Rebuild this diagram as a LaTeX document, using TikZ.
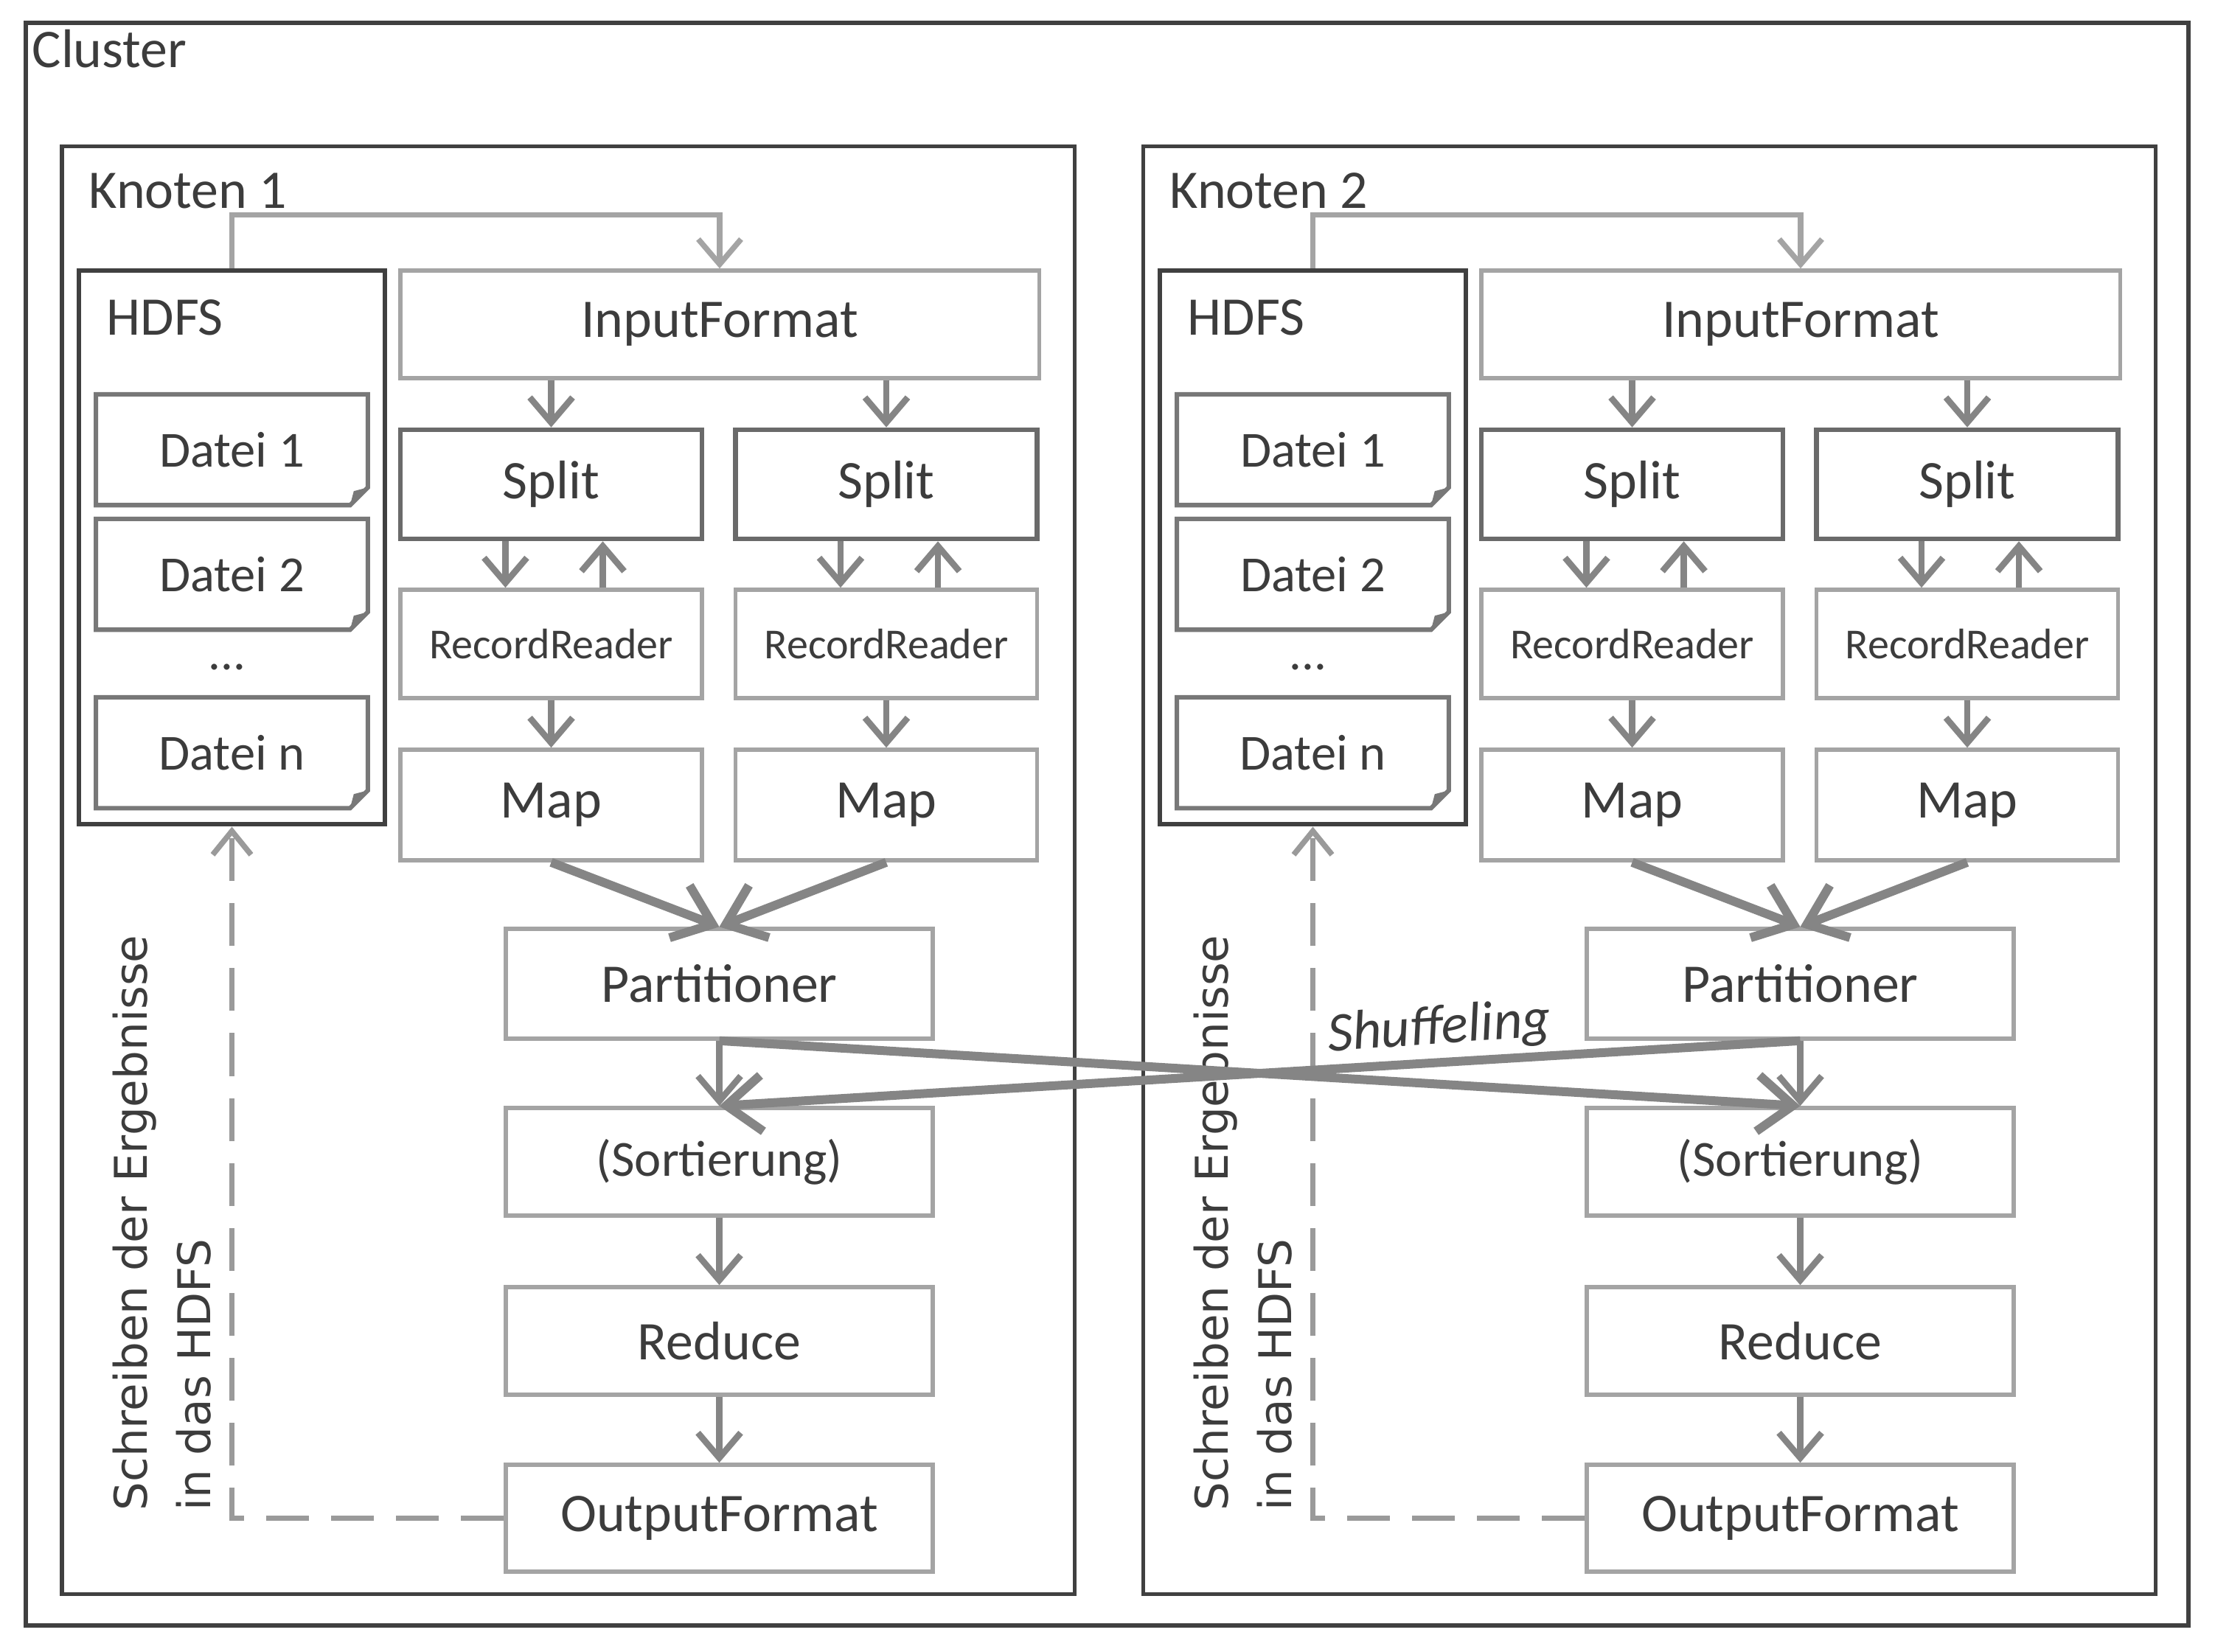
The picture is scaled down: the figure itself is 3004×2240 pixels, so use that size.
\documentclass[tikz,border=0pt]{standalone}
\usepackage{fontspec}
\setmainfont{Carlito}
\newfontfamily\rotfont{DejaVu Sans}
\usetikzlibrary{arrows.meta}

\definecolor{darkline}{HTML}{404040}
\definecolor{splitline}{HTML}{6A6A6A}
\definecolor{boxline}{HTML}{A4A4A4}
\definecolor{fileline}{HTML}{787878}
\definecolor{arrowgray}{HTML}{858585}
\definecolor{dashgray}{HTML}{9A9A9A}
\definecolor{txt}{HTML}{3C3C3C}

\tikzset{
  frame/.style={draw=darkline, line width=0.05cm},
  lbl/.style={text=txt, font=\fontsize{21}{25}\selectfont, inner sep=0pt},
  procbox/.style={draw=boxline, line width=0.055cm, text=txt, font=\fontsize{21}{25}\selectfont, inner sep=0pt},
  splitbox/.style={procbox, draw=splitline, line width=0.065cm, minimum width=4.09cm, minimum height=1.48cm},
  hdfsbox/.style={draw=darkline, line width=0.065cm, minimum width=4.15cm, minimum height=7.51cm, inner sep=0pt},
  filebox/.style={text=txt, font=\fontsize{19.5}{23}\selectfont, minimum width=3.67cm, minimum height=1.49cm, inner sep=0pt},
  fileline/.style={draw=fileline, line width=0.06cm},
  fold/.style={fill=fileline},
  arr/.style={draw=arrowgray, line width=0.085cm, -{Straight Barb[length=0.34cm,width=0.58cm]}},
  bigarr/.style={draw=arrowgray, line width=0.12cm, -{Straight Barb[length=0.48cm,width=0.76cm]}},
  dasharr/.style={draw=dashgray, line width=0.075cm, dash pattern=on 0.58cm off 0.3cm, -{Straight Barb[length=0.32cm,width=0.52cm]}}
}

\begin{document}
\begin{tikzpicture}[x=0.01cm,y=-0.01cm]
\useasboundingbox (0,0) rectangle (3004,2240);
% cluster frame
\draw[frame, line width=0.06cm] (35,31) rectangle (2968,2205);
\node[lbl, anchor=base west] (clusterlbl) at (43,92) {Cluster};

\foreach \k/\dx in {1/0,2/1466}{
  \begin{scope}[shift={(\dx,0)}]
    % node frame
    \draw[frame] (84,199) rectangle (1457,2162);
    \node[lbl, anchor=base west] (knlbl\k) at (120,283) {Knoten \k};

    % hdfs with files
    \node[hdfsbox] (hdfs\k) at (314.5,742.5) {};
    \node[lbl, anchor=base west] (hdfslbl\k) at (144,455) {HDFS};
    \node[filebox] (fa\k) at (314.5,610) {Datei 1};
    \node[filebox] (fb\k) at (314.5,779) {Datei 2};
    \node[lbl, font=\fontsize{19}{23}\selectfont] (dots\k) at (308,905) {...};
    \node[filebox] (fn\k) at (314.5,1021) {Datei n};
    \foreach \f in {fa,fb,fn}{
      \draw[fileline] (\f\k.north west) -- (\f\k.north east) -- ([yshift=0.24cm]\f\k.south east)
        -- ([xshift=-0.24cm]\f\k.south east) -- (\f\k.south west) -- cycle;
      \fill[fold] ([yshift=0.24cm]\f\k.south east) -- ([xshift=-0.24cm]\f\k.south east)
        -- ([xshift=-0.19cm,yshift=0.19cm]\f\k.south east) -- cycle;
    }

    % reduce side
    \node[procbox, minimum width=5.79cm, minimum height=1.49cm] (part\k) at (975.5,1334.5) {Partitioner};
    \node[procbox, font=\fontsize{19.5}{23}\selectfont, minimum width=5.79cm, minimum height=1.46cm] (sort\k) at (975.5,1576) {(Sortierung)};
    \node[procbox, minimum width=5.79cm, minimum height=1.46cm] (red\k) at (975.5,1819) {Reduce};
    \node[procbox, minimum width=5.79cm, minimum height=1.45cm] (out\k) at (975.5,2059.5) {OutputFormat};
    \draw[arr] (part\k) -- (sort\k);
    \draw[arr] (sort\k) -- (red\k);
    \draw[arr] (red\k) -- (out\k);

    % map side
    \node[procbox, minimum width=8.66cm, minimum height=1.46cm] (in\k) at (976,440) {InputFormat};
    \foreach \s/\cx in {a/747.5,b/1202}{
      \node[splitbox] (sp\s\k) at (\cx,657) {Split};
      \node[procbox, font=\fontsize{16.5}{20}\selectfont, minimum width=4.09cm, minimum height=1.47cm] (rr\s\k) at (\cx,873.5) {RecordReader};
      \node[procbox, minimum width=4.09cm, minimum height=1.5cm] (map\s\k) at (\cx,1092) {Map};
      \draw[arr] (sp\s\k.north |- in\k.south) -- (sp\s\k.north);
      \draw[arr] ([xshift=-0.62cm]sp\s\k.south) -- ([xshift=-0.62cm]rr\s\k.north);
      \draw[arr] ([xshift=0.7cm]rr\s\k.north) -- ([xshift=0.7cm]sp\s\k.south);
      \draw[arr] (rr\s\k) -- (map\s\k);
      \draw[bigarr] (map\s\k.south) -- (part\k.north);
    }

    % read and write back
    \draw[arr, draw=boxline, line width=0.075cm] (hdfs\k.north) -- ++(0,-72) -| (in\k.north);
    \draw[dasharr] (out\k.west) -| (hdfs\k.south);
    \node[rotate=90, anchor=west, align=left, inner sep=0pt, text=txt,
      font=\rotfont\fontsize{17.4}{24.5}\selectfont] (write\k) at (220,2050)
      {Schreiben der Ergebnisse\\in das HDFS};
  \end{scope}
}

% shuffeling between the nodes
\draw[bigarr] (part1.south) -- (sort2.north);
\draw[bigarr] (part2.south) -- (sort1.north);
\node[lbl, font=\fontsize{21.5}{25}\selectfont\itshape, rotate=4] (shuffle) at (1952,1396) {Shuffeling};
\end{tikzpicture}
\end{document}
